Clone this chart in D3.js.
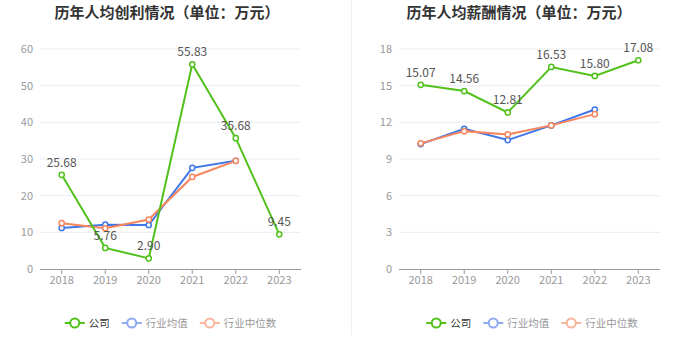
<!DOCTYPE html>
<html><head><meta charset="utf-8">
<script src="https://cdn.jsdelivr.net/npm/d3@7"></script>
<style>body{margin:0;background:#fff}svg{display:block;font-family:"Noto Sans CJK SC","Noto Sans",sans-serif}</style>
</head><body>
<svg id="c" width="700" height="359"></svg>
<script>
const years = ["2018","2019","2020","2021","2022","2023"];
const seriesNames = ["公司","行业均值","行业中位数"];
const colors = ["#52c11c","#3f76e8","#f7865f"];
const legendColors = ["#52c11c","#8eaaf0","#f9b49c"];
const titles = ["历年人均创利情况（单位：万元）","历年人均薪酬情况（单位：万元）"];
const profitCompany = [25.68,5.76,2.90,55.83,35.68,9.45];
const profitMean = [11.2,12.1,12.0,27.6,29.5,null];
const profitMedian = [12.5,11.1,13.5,25.1,29.5,null];
const profitTicks = [0,10,20,30,40,50,60];
const salaryCompany = [15.07,14.56,12.81,16.53,15.80,17.08];
const salaryMean = [10.22,11.47,10.55,11.75,13.05,null];
const salaryMedian = [10.28,11.28,11.01,11.75,12.67,null];
const salaryTicks = [0,3,6,9,12,15,18];

const svg = d3.select("#c");
svg.append("line").attr("x1",351.5).attr("x2",351.5).attr("y1",0).attr("y2",335).attr("stroke","#eeeeee");

function chart(title, ticks, data, xr, titleX){
  const g = svg.append("g");
  g.append("text").attr("x",titleX).attr("y",18).attr("text-anchor","middle")
    .attr("font-size",15).attr("font-weight","bold").attr("fill","#333").text(title);
  const x = d3.scalePoint().domain(years).range([xr[0]+xr[2],xr[1]-xr[2]]);
  const y = d3.scaleLinear().domain([ticks[0],ticks[ticks.length-1]]).range([269,49]);
  ticks.forEach(t=>{
    if(t>0) g.append("line").attr("x1",xr[0]).attr("x2",xr[1]).attr("y1",y(t)).attr("y2",y(t)).attr("stroke","#e9edf5");
    g.append("text").attr("x",xr[0]-7).attr("y",y(t)+4).attr("text-anchor","end").attr("font-size",11).attr("fill","#999").text(t);
  });
  g.append("line").attr("x1",xr[0]).attr("x2",xr[1]).attr("y1",269.5).attr("y2",269.5).attr("stroke","#9a9a9a");
  years.forEach(yr=>{
    g.append("line").attr("x1",x(yr)).attr("x2",x(yr)).attr("y1",269.5).attr("y2",274).attr("stroke","#9a9a9a");
    g.append("text").attr("x",x(yr)).attr("y",284).attr("text-anchor","middle").attr("font-size",11).attr("fill","#999").text(yr);
  });
  const order=[1,2,0];
  order.forEach(i=>{
    const vals=data[i];
    const pts=years.map((yr,j)=>({yr,v:vals[j]})).filter(d=>d.v!=null);
    g.append("path").attr("d",d3.line().x(d=>x(d.yr)).y(d=>y(d.v))(pts))
      .attr("fill","none").attr("stroke",colors[i]).attr("stroke-width",2);
    pts.forEach(d=>{
      g.append("circle").attr("cx",x(d.yr)).attr("cy",y(d.v)).attr("r",2.6).attr("fill","#fff").attr("stroke",colors[i]).attr("stroke-width",1.5);
    });
  });
  years.forEach((yr,j)=>{
    const v=data[0][j];
    g.append("text").attr("x",x(yr)).attr("y",y(v)-8).attr("text-anchor","middle").attr("font-size",12).attr("fill","#555").text(v.toFixed(2));
  });
}
chart(titles[0],profitTicks,[profitCompany,profitMean,profitMedian],[40,301,21.7],167);
chart(titles[1],salaryTicks,[salaryCompany,salaryMean,salaryMedian],[399,660,21.7],519);

function legend(cx){
  const g=svg.append("g");
  const items=[];
  let pos=0;
  seriesNames.forEach((n,i)=>{
    const it=g.append("g");
    it.append("line").attr("x1",0).attr("x2",20).attr("y1",323).attr("y2",323).attr("stroke",legendColors[i]).attr("stroke-width",2);
    it.append("circle").attr("cx",10).attr("cy",323).attr("r",4.5).attr("fill","#fff").attr("stroke",legendColors[i]).attr("stroke-width",2);
    const t=it.append("text").attr("x",24).attr("y",327).attr("font-size",10.5).attr("fill",i==0?"#333":"#999").text(n);
    const w=24+t.node().getComputedTextLength();
    items.push({it,pos});
    pos+=w+12;
  });
  const total=pos-12;
  items.forEach(d=>d.it.attr("transform",`translate(${cx-total/2+d.pos},0)`));
}
legend(170.5);
legend(532);
</script>
</body></html>
